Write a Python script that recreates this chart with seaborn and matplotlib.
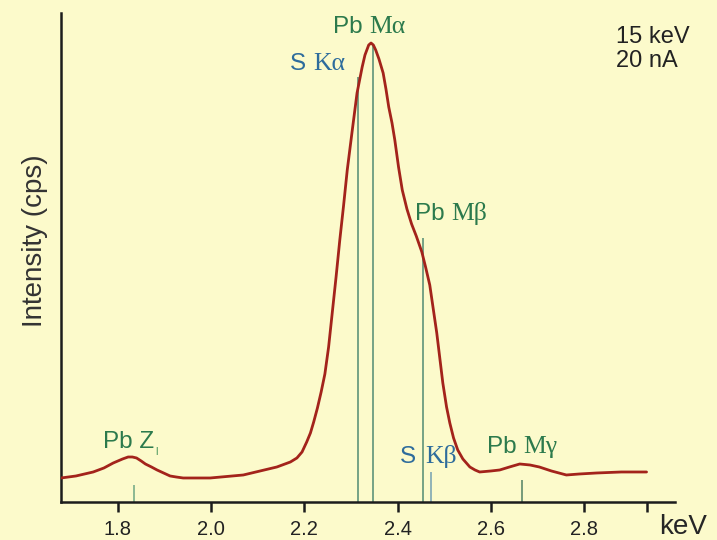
import matplotlib
matplotlib.use("Agg")
import matplotlib.pyplot as plt
import seaborn as sns
import pandas as pd

# Measured spectrum: energy (keV) vs. intensity (arbitrary cps scale)
energy_kev = [1.678, 1.71, 1.747, 1.77, 1.79, 1.81, 1.822, 1.831, 1.84, 1.85,
              1.859, 1.872, 1.884, 1.898, 1.912, 1.925, 1.94, 1.998, 2.069, 2.141,
              2.17, 2.184, 2.195, 2.205, 2.213, 2.22, 2.228, 2.236, 2.244, 2.252,
              2.26, 2.268, 2.276, 2.284, 2.292, 2.302, 2.313, 2.324, 2.33, 2.334,
              2.338, 2.343, 2.348, 2.353, 2.36, 2.369, 2.375, 2.381, 2.388, 2.394,
              2.402, 2.41, 2.42, 2.43, 2.44, 2.452, 2.46, 2.469, 2.484, 2.497,
              2.505, 2.512, 2.52, 2.529, 2.54, 2.555, 2.566, 2.576, 2.6, 2.619,
              2.64, 2.662, 2.684, 2.704, 2.73, 2.762, 2.79, 2.827, 2.88, 2.934]
intensity = [24, 26, 30, 34, 39, 43, 45, 45, 44, 41,
             38, 35, 32, 29, 26, 25, 24, 24, 27, 35,
             40, 44, 50, 60, 69, 80, 94, 110, 128, 155,
             190, 225, 262, 296, 332, 369, 409, 435, 447, 452,
             457, 459, 457, 452, 443, 429, 413, 395, 379, 362,
             335, 312, 293, 278, 266, 250, 235, 217, 169, 119,
             95, 79, 64, 52, 43, 35, 32, 30, 31, 32,
             35, 38, 37, 35, 31, 27, 28, 29, 30, 30]

# Characteristic line markers: energy and marker height
line_energy = [1.835, 2.314, 2.347, 2.455, 2.471, 2.666]
line_top = [17, 425, 457, 264, 30, 22]
line_color = ["#79ad88", "#5e937a", "#5e937a", "#5e937a", "#7ea7b4", "#5e8a6c"]

tick_values = [1.8, 2.0, 2.2, 2.4, 2.6, 2.8, 2.935]
tick_labels = ["1.8", "2.0", "2.2", "2.4", "2.6", "2.8", ""]

BG = "#fcfacb"
GREEN = "#2c7a4c"
BLUE = "#2e6c9c"

sns.set_theme(style="white")
plt.rcParams["font.family"] = ["Liberation Sans", "DejaVu Sans"]

fig = plt.figure(figsize=(7.17, 5.40), dpi=100, facecolor=BG)
ax = fig.add_axes([0.0851, 0.0704, 0.8563, 0.9055])
ax.set_facecolor(BG)

ax.vlines(line_energy, 0, line_top, colors=line_color, linewidth=1.2, zorder=2)

df = pd.DataFrame({"keV": energy_kev, "cps": intensity})
sns.lineplot(data=df, x="keV", y="cps", ax=ax, sort=False, estimator=None,
             color="#a3231b", linewidth=2.0, zorder=3)

ax.set_xlim(1.678, 2.995)
ax.set_ylim(0, 489)

for side in ("top", "right"):
    ax.spines[side].set_visible(False)
for side in ("left", "bottom"):
    ax.spines[side].set_color("#1c1c1c")
    ax.spines[side].set_linewidth(1.8)

ax.set_yticks([])
ax.set_xticks(tick_values)
ax.set_xticklabels(tick_labels, fontsize=14.5, color="#222222")
ax.tick_params(axis="x", direction="out", length=7, width=1.8, color="#1c1c1c",
               pad=6, bottom=True)

ax.set_ylabel("Intensity (cps)", fontsize=20, color="#333333")
ax.yaxis.set_label_coords(-0.022, 0.534)
ax.set_xlabel("keV", fontsize=20, color="#262626")
ax.xaxis.set_label_coords(1.013, -0.025)


def peak_label(e, i, head, tail, color, size=17.5, gap=0.0):
    t = ax.text(e, i, head, family="Liberation Sans", color=color,
                fontsize=size, ha="left", va="baseline", zorder=4)
    ax.annotate(tail, xy=(1, 0), xycoords=t, xytext=(gap, 0),
                textcoords="offset points", family="Liberation Serif",
                color=color, fontsize=size + 1, ha="left", va="bottom", zorder=4)


peak_label(2.261, 469, "Pb ", "M\u03b1", GREEN)
peak_label(2.169, 432, "S ", "K\u03b1", BLUE)
peak_label(2.438, 282, "Pb ", "M\u03b2", GREEN)
peak_label(2.405, 39, "S ", "K\u03b2", BLUE, gap=2)
peak_label(2.592, 49, "Pb ", "M\u03b3", GREEN)

tz = ax.text(1.768, 54, "Pb Z", family="Liberation Sans", color=GREEN,
             fontsize=17.5, ha="left", va="baseline", zorder=4)
ax.annotate("l", xy=(1, 0), xycoords=tz, xytext=(1, -3), textcoords="offset points",
            family="Liberation Sans", color="#4f9a62", fontsize=8,
            ha="left", va="bottom", zorder=4)

ax.text(2.868, 476, "15 keV\n20 nA", family="Liberation Sans", color="#222222",
        fontsize=17, ha="left", va="top", linespacing=1.1, zorder=4)

fig.savefig("out.png", dpi=100, facecolor=BG)
